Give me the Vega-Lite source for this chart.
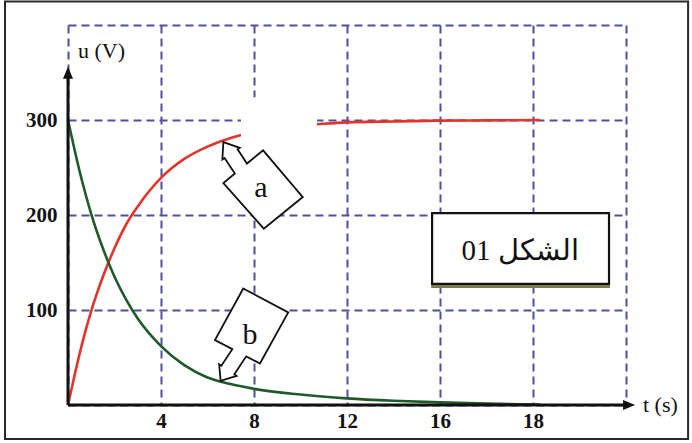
{
  "$schema": "https://vega.github.io/schema/vega-lite/v6.json",
  "width": 558,
  "height": 380,
  "autosize": {"type": "none"},
  "padding": {"left": 68, "top": 25, "right": 66, "bottom": 38},
  "background": "white",
  "config": {"view": {"stroke": null}},
  "layer": [
    {
      "data": {"values": [
        {"t": 0, "u": 0, "curve": "a"},
        {"t": 0.5, "u": 54, "curve": "a"},
        {"t": 1, "u": 99, "curve": "a"},
        {"t": 1.5, "u": 135, "curve": "a"},
        {"t": 2, "u": 165, "curve": "a"},
        {"t": 2.5, "u": 190, "curve": "a"},
        {"t": 3, "u": 209, "curve": "a"},
        {"t": 4, "u": 239, "curve": "a"},
        {"t": 5, "u": 259, "curve": "a"},
        {"t": 6, "u": 272, "curve": "a"},
        {"t": 7, "u": 281, "curve": "a"},
        {"t": 8, "u": 287, "curve": "a"},
        {"t": 9, "u": 291, "curve": "a"},
        {"t": 10, "u": 294, "curve": "a"},
        {"t": 11, "u": 296, "curve": "a"},
        {"t": 12, "u": 297.5, "curve": "a"},
        {"t": 14, "u": 298.5, "curve": "a"},
        {"t": 16, "u": 299.3, "curve": "a"},
        {"t": 18, "u": 299.6, "curve": "a"},
        {"t": 20.3, "u": 300, "curve": "a"},
        {"t": 0, "u": 300, "curve": "b"},
        {"t": 0.5, "u": 246, "curve": "b"},
        {"t": 1, "u": 201, "curve": "b"},
        {"t": 1.5, "u": 165, "curve": "b"},
        {"t": 2, "u": 135, "curve": "b"},
        {"t": 2.5, "u": 111, "curve": "b"},
        {"t": 3, "u": 91, "curve": "b"},
        {"t": 4, "u": 62, "curve": "b"},
        {"t": 5, "u": 42, "curve": "b"},
        {"t": 6, "u": 29, "curve": "b"},
        {"t": 7, "u": 22, "curve": "b"},
        {"t": 8, "u": 17, "curve": "b"},
        {"t": 10, "u": 11, "curve": "b"},
        {"t": 12, "u": 7, "curve": "b"},
        {"t": 14, "u": 4.5, "curve": "b"},
        {"t": 16, "u": 2.8, "curve": "b"},
        {"t": 18, "u": 1.5, "curve": "b"},
        {"t": 20.3, "u": 0.5, "curve": "b"}
      ]},
      "mark": {"type": "line", "interpolate": "monotone", "strokeWidth": 2.6},
      "encoding": {
        "x": {
          "field": "t", "type": "quantitative",
          "scale": {"domain": [0, 24], "nice": false, "zero": false},
          "axis": {
            "title": null, "domain": false, "ticks": false,
            "values": [0, 4, 8, 12, 16, 20, 24],
            "labelExpr": "datum.value == 20 ? '18' : (datum.value == 0 || datum.value == 24 ? '' : datum.label)",
            "labelFont": "Liberation Serif", "labelFontSize": 21, "labelFontWeight": "bold",
            "labelColor": "#111", "labelPadding": 5,
            "grid": true, "gridDash": [8, 5], "gridColor": "#50509e", "gridWidth": 2, "gridOpacity": 1
          }
        },
        "y": {
          "field": "u", "type": "quantitative",
          "scale": {"domain": [0, 400], "nice": false, "zero": false},
          "axis": {
            "title": null, "domain": false, "ticks": false,
            "values": [0, 100, 200, 300, 400],
            "labelExpr": "datum.value > 0 && datum.value < 400 ? datum.label : ''",
            "labelFont": "Liberation Serif", "labelFontSize": 21, "labelFontWeight": "bold",
            "labelColor": "#111", "labelPadding": 11,
            "grid": true, "gridDash": [8, 5], "gridColor": "#50509e", "gridWidth": 2, "gridOpacity": 1
          }
        },
        "color": {
          "field": "curve", "type": "nominal", "legend": null,
          "scale": {"domain": ["a", "b"], "range": ["#e3342b", "#1f5a2a"]}
        },
        "detail": {"field": "curve"}
      }
    },
    {
      "data": {"values": [{}]},
      "mark": {"type": "rect", "fill": "white", "stroke": null},
      "encoding": {
        "x": {"datum": 7.44, "type": "quantitative"},
        "x2": {"datum": 10.71},
        "y": {"datum": 324, "type": "quantitative"},
        "y2": {"datum": 252}
      }
    },
    {
      "data": {"values": [{}]},
      "mark": {"type": "rule", "color": "#111", "strokeWidth": 3},
      "encoding": {
        "x": {"datum": 0, "type": "quantitative"},
        "x2": {"datum": 24.1},
        "y": {"datum": 0, "type": "quantitative"}
      }
    },
    {
      "data": {"values": [{}]},
      "mark": {"type": "rule", "color": "#111", "strokeWidth": 3},
      "encoding": {
        "x": {"datum": 0, "type": "quantitative"},
        "y": {"datum": 0, "type": "quantitative"},
        "y2": {"datum": 350}
      }
    },
    {
      "data": {"values": [{}]},
      "mark": {"type": "point", "shape": "M0,0 L-1,-0.42 L-1,0.42 Z", "size": 576, "filled": true, "fill": "#111", "stroke": null, "opacity": 1},
      "encoding": {
        "x": {"datum": 24.39, "type": "quantitative"},
        "y": {"datum": 0, "type": "quantitative"}
      }
    },
    {
      "data": {"values": [{}]},
      "mark": {"type": "point", "shape": "M0,0 L-0.42,1 L0.42,1 Z", "size": 576, "filled": true, "fill": "#111", "stroke": null, "opacity": 1},
      "encoding": {
        "x": {"datum": 0, "type": "quantitative"},
        "y": {"datum": 356, "type": "quantitative"}
      }
    },
    {
      "data": {"values": [{}]},
      "mark": {
        "type": "point",
        "shape": "M-0.9925,-1.1825 L-0.5825,-1.0375 L-0.6375,-1.0 L-0.4025,-0.645 L0,-0.975 L0.9925,0.1925 L0.0175,0.9825 L-0.9925,-0.1575 L-0.705,-0.395 L-0.9625,-0.785 L-1.0175,-0.7475 Z",
        "size": 6400, "filled": true, "fill": "white", "stroke": "#111", "strokeWidth": 1.8, "opacity": 1
      },
      "encoding": {
        "x": {"datum": 8.39, "type": "quantitative"},
        "y": {"datum": 227, "type": "quantitative"}
      }
    },
    {
      "data": {"values": [{}]},
      "mark": {
        "type": "point",
        "shape": "M-0.205,-0.9425 L0.92,-0.3425 L0.2125,0.9325 L-0.13,0.755 L-0.4275,1.205 L-0.3725,1.2425 L-0.77,1.3675 L-0.8075,0.9525 L-0.7525,0.99 L-0.4775,0.575 L-0.9125,0.35 Z",
        "size": 6400, "filled": true, "fill": "white", "stroke": "#111", "strokeWidth": 1.8, "opacity": 1
      },
      "encoding": {
        "x": {"datum": 7.89, "type": "quantitative"},
        "y": {"datum": 83, "type": "quantitative"}
      }
    },
    {
      "data": {"values": [{}]},
      "mark": {"type": "text", "text": "a", "font": "Liberation Serif", "fontSize": 30, "color": "#111", "align": "center", "baseline": "middle"},
      "encoding": {
        "x": {"datum": 8.3, "type": "quantitative"},
        "y": {"datum": 228, "type": "quantitative"}
      }
    },
    {
      "data": {"values": [{}]},
      "mark": {"type": "text", "text": "b", "font": "Liberation Serif", "fontSize": 30, "color": "#111", "align": "center", "baseline": "middle"},
      "encoding": {
        "x": {"datum": 7.83, "type": "quantitative"},
        "y": {"datum": 74, "type": "quantitative"}
      }
    },
    {
      "data": {"values": [{}]},
      "mark": {"type": "rect", "fill": "#7d7d45", "stroke": null},
      "encoding": {
        "x": {"datum": 15.62, "type": "quantitative"},
        "x2": {"datum": 23.31},
        "y": {"datum": 203, "type": "quantitative"},
        "y2": {"datum": 123.2}
      }
    },
    {
      "data": {"values": [{}]},
      "mark": {"type": "rect", "fill": "white", "stroke": "#111", "strokeWidth": 2.2},
      "encoding": {
        "x": {"datum": 15.66, "type": "quantitative"},
        "x2": {"datum": 23.27},
        "y": {"datum": 202, "type": "quantitative"},
        "y2": {"datum": 127.4}
      }
    },
    {
      "data": {"values": [{}]},
      "mark": {"type": "text", "text": "01 الشكل", "font": "Liberation Serif", "fontSize": 29, "color": "#111", "align": "center", "baseline": "middle"},
      "encoding": {
        "x": {"datum": 19.45, "type": "quantitative"},
        "y": {"datum": 162, "type": "quantitative"}
      }
    },
    {
      "data": {"values": [{}]},
      "mark": {"type": "text", "text": "u (V)", "font": "Liberation Serif", "fontSize": 22, "color": "#111", "align": "left", "baseline": "middle"},
      "encoding": {
        "x": {"datum": 0.43, "type": "quantitative"},
        "y": {"datum": 372.6, "type": "quantitative"}
      }
    },
    {
      "data": {"values": [{}]},
      "mark": {"type": "text", "text": "t (s)", "font": "Liberation Serif", "fontSize": 22, "color": "#111", "align": "left", "baseline": "middle"},
      "encoding": {
        "x": {"datum": 24.73, "type": "quantitative"},
        "y": {"datum": 0, "type": "quantitative"}
      }
    },
    {
      "data": {"values": [{}]},
      "mark": {"type": "rect", "filled": false, "fill": null, "stroke": "#2a2a2a", "strokeWidth": 2},
      "encoding": {
        "x": {"datum": -2.71, "type": "quantitative"},
        "x2": {"datum": 26.67},
        "y": {"datum": 424.7, "type": "quantitative"},
        "y2": {"datum": -35.8}
      }
    }
  ]
}
